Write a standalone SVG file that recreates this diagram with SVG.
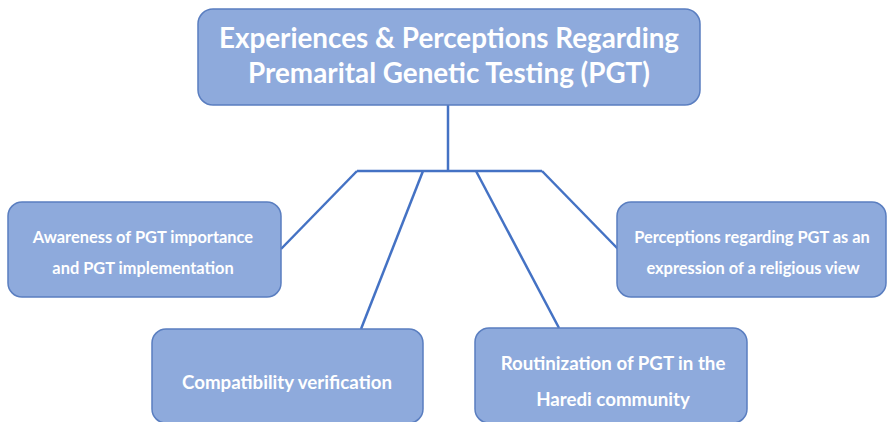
<svg xmlns="http://www.w3.org/2000/svg" width="887" height="422" viewBox="0 0 887 422">
  <style>
    .box { fill: #8eaadc; stroke: #5a7ec0; stroke-width: 1.5; }
    .link { fill: none; stroke: #4472c4; stroke-width: 2.5; stroke-linejoin: miter; }
    .title { font-family: Lato, "Liberation Sans", sans-serif; font-weight: bold; font-size: 27.8px; fill: #ffffff; text-anchor: middle; }
    .label { font-family: Lato, "Liberation Sans", sans-serif; font-weight: bold; font-size: 16.4px; fill: #ffffff; text-anchor: middle; }
    .label-lg { font-family: Lato, "Liberation Sans", sans-serif; font-weight: bold; font-size: 18.7px; fill: #ffffff; text-anchor: middle; }
  </style>
  <rect width="887" height="422" fill="#ffffff"/>

  <!-- tree connectors -->
  <g id="connectors">
    <line class="link" x1="448" y1="105" x2="448" y2="171"/>
    <line class="link" x1="357" y1="171" x2="542" y2="171"/>
    <line class="link" x1="357" y1="171" x2="281" y2="249"/>
    <line class="link" x1="423" y1="171" x2="361" y2="329"/>
    <line class="link" x1="476" y1="171" x2="559" y2="328"/>
    <line class="link" x1="542" y1="171" x2="618" y2="249"/>
  </g>

  <g id="root">
    <rect class="box" x="198" y="9" width="502" height="96" rx="15"/>
    <text class="title" x="449" y="48">Experiences &amp; Perceptions Regarding</text>
    <text class="title" x="449" y="83">Premarital Genetic Testing (PGT)</text>
  </g>

  <g id="awareness">
    <rect class="box" x="8" y="202" width="273" height="95" rx="14"/>
    <text class="label" x="143" y="243">Awareness of PGT importance</text>
    <text class="label" x="143" y="274">and PGT implementation</text>
  </g>

  <g id="compatibility">
    <rect class="box" x="152" y="329" width="271" height="94" rx="14"/>
    <text class="label-lg" x="287" y="389">Compatibility verification</text>
  </g>

  <g id="routinization">
    <rect class="box" x="475" y="328" width="272" height="95" rx="14"/>
    <text class="label-lg" x="613" y="370">Routinization of PGT in the</text>
    <text class="label-lg" x="613" y="406">Haredi community</text>
  </g>

  <g id="religious-view">
    <rect class="box" x="617" y="202" width="269" height="95" rx="14"/>
    <text class="label" x="752" y="243">Perceptions regarding PGT as an</text>
    <text class="label" x="753" y="274">expression of a religious view</text>
  </g>
</svg>
